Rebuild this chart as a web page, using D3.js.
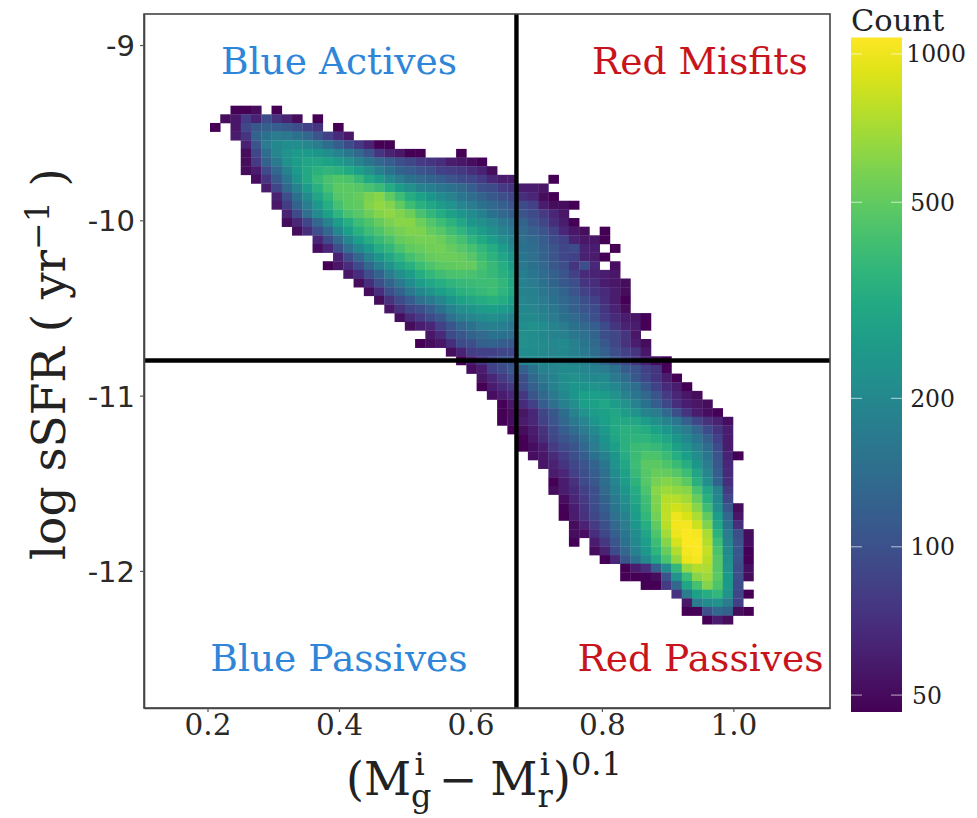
<!DOCTYPE html>
<html>
<head>
<meta charset="utf-8">
<script src="https://cdn.jsdelivr.net/npm/d3@7"></script>
<style>
  html, body { margin: 0; padding: 0; background: #fff; }
  svg { display: block; }
  text { font-family: "DejaVu Serif"; fill: #222; }
</style>
</head>
<body>
<div id="chart"></div>
<script>
var xTicks = [0.2, 0.4, 0.6, 0.8, 1.0];
var yTicks = [-9, -10, -11, -12];
var countTicks = [50, 100, 200, 500, 1000];
var quadrantLabels = ["Blue Actives", "Red Misfits", "Blue Passives", "Red Passives"];
var quadrantColors = ["#2f86d8", "#c8141c", "#2f86d8", "#c8141c"];
var quadrantX = [0.4, 0.949, 0.4, 0.95];
var quadrantY = [-9.165, -9.165, -12.57, -12.57];
var colorCut = 0.67;
var ssfrCut = -10.8;

// histogram bins: first edge and step in data units
var colorBinStart = 0.2038, colorBinStep = 0.0156;
var ssfrBinStart = -9.346, ssfrBinStep = 0.0493;

// one row per ssfr bin, top to bottom: first colour bin index, then the counts (0 = empty)
var countRows = [
  [2, 48,46,50,0,47],
  [1, 50,55,80,62,95,72,62,50,0,47],
  [0, 46,0,55,90,110,120,115,110,100,85,75,0,47],
  [2, 58,75,125,150,170,165,150,130,105,85,68,55],
  [3, 62,105,170,200,215,215,195,170,140,115,95,78,62,47,47],
  [3, 50,90,140,195,230,255,255,240,215,185,160,130,105,75,62,55,47,47,0,0,0,47],
  [3, 50,80,125,165,225,265,290,300,285,255,225,190,155,130,115,100,90,80,75,70,58,55,52,48],
  [3, 50,58,95,130,185,255,310,345,365,345,310,270,225,180,150,125,115,105,100,85,82,78,70,62,50],
  [4, 52,75,110,160,235,310,380,430,460,440,380,310,260,210,170,150,135,125,115,105,95,90,80,65,60,58,0,0,0,47],
  [5, 60,90,130,190,260,340,420,490,490,470,430,390,320,260,220,190,175,160,150,135,115,100,95,80,75,60,58,55],
  [6, 62,100,150,210,290,370,470,490,510,570,610,500,400,320,280,240,210,190,160,140,125,110,100,90,70,65,50,47],
  [6, 55,82,125,175,250,330,420,480,500,590,640,600,500,400,340,300,260,230,195,170,150,130,120,105,95,85,60,50,50,47],
  [7, 62,95,145,210,280,360,430,470,530,600,630,590,530,430,370,320,280,240,210,180,150,130,115,105,95,80,65,55],
  [7, 50,65,90,130,190,260,330,400,450,510,570,620,610,530,460,400,350,300,240,220,195,165,145,125,105,90,70,58,47],
  [8, 50,70,100,130,200,270,340,400,450,510,560,590,580,510,470,410,360,300,260,220,190,165,135,120,105,85,65,55,50,0,47],
  [10, 66,95,135,200,270,330,380,430,510,540,560,560,530,470,420,360,310,265,220,185,145,135,115,95,85,62,55,55,47],
  [10, 52,66,100,145,200,250,320,370,440,500,520,540,550,510,470,420,370,320,260,210,150,140,120,105,90,95,62,60,0,47],
  [12, 62,95,130,190,240,300,360,420,470,510,530,530,510,470,400,350,290,240,155,145,125,105,90,85,62,58,47],
  [11, 47,55,70,95,130,180,230,290,340,400,450,480,500,510,510,430,380,330,270,165,150,130,110,100,75,100,65,0,52],
  [13, 55,70,100,125,170,220,260,320,370,410,430,440,430,410,380,340,290,175,160,140,120,105,85,68,62,60,55],
  [14, 50,70,100,125,165,210,260,300,330,360,380,390,400,410,370,310,185,170,150,125,110,100,75,70,60,55,50],
  [15, 50,70,100,125,165,200,230,270,300,340,360,380,400,360,310,190,180,160,140,125,105,85,75,68,58,50],
  [16, 50,72,95,115,145,165,195,240,280,300,320,340,320,280,195,190,170,150,130,115,100,85,70,58,47],
  [17, 55,72,90,100,120,150,185,220,240,260,270,260,240,200,195,175,160,140,120,105,95,75,62,50],
  [18, 52,68,80,95,110,145,175,195,210,220,210,190,205,205,190,170,150,135,115,100,80,68,58,55,48],
  [19, 50,60,65,85,105,130,150,170,180,175,160,215,225,215,185,170,150,130,115,95,75,62,58,47],
  [21, 55,68,95,110,125,135,150,150,140,220,215,200,190,180,160,145,125,100,90,75,55],
  [20, 47,50,55,70,95,100,120,125,115,110,220,215,210,200,205,180,155,135,110,90,72,60,50],
  [23, 50,62,82,85,85,90,90,210,210,205,195,200,180,165,140,120,100,85,75,55],
  [24, 47,60,75,90,105,100,200,205,205,200,200,190,180,160,130,105,90,75,60,50,47],
  [25, 52,60,85,95,110,120,150,185,195,205,205,195,180,170,150,115,105,85,75,48],
  [26, 54,66,80,95,100,130,165,190,215,225,210,200,205,165,140,110,90,75,58,47],
  [26, 47,60,68,78,95,120,150,180,215,240,235,230,220,200,165,140,110,85,68,58,47],
  [27, 52,60,65,78,105,130,165,200,240,270,270,260,230,190,160,130,105,80,65,55,50],
  [28, 48,56,68,85,115,145,180,220,270,280,300,260,230,185,150,115,90,70,60,55,50],
  [28, 47,50,54,66,90,110,140,190,230,260,280,300,260,230,190,170,130,100,75,60,52,48],
  [28, 47,52,58,65,85,105,130,165,195,240,270,310,310,300,260,220,190,160,120,90,72,62,52],
  [29, 47,50,58,72,95,115,140,170,205,250,310,340,340,320,280,240,200,170,130,95,75,58],
  [30, 47,56,70,90,105,120,145,180,235,290,340,360,360,330,290,240,200,160,120,85,60],
  [30, 47,52,60,80,95,105,130,170,220,270,340,390,400,380,340,280,230,190,140,95,58],
  [31, 52,55,68,82,100,115,150,180,240,320,390,450,440,390,330,270,215,160,105,62,46],
  [32, 54,62,75,90,105,125,160,230,300,400,490,490,450,390,330,240,170,110,65],
  [33, 58,66,85,100,115,145,210,280,380,470,520,510,470,400,290,195,115,68],
  [33, 47,60,72,95,110,140,195,260,350,470,560,600,560,480,340,220,125,70],
  [33, 50,60,68,85,100,135,180,240,320,440,620,680,640,620,430,300,190,80],
  [34, 52,64,80,100,125,165,220,300,410,590,760,760,700,520,340,200,90],
  [34, 48,60,75,95,115,155,205,280,390,580,790,860,800,620,400,220,110,50],
  [34, 47,58,72,90,110,145,190,260,370,550,800,1000,900,730,500,260,130,55],
  [35, 50,62,80,100,130,170,240,330,500,780,1020,1040,850,590,300,150,70],
  [35, 52,52,70,90,120,160,215,290,450,700,1000,1060,1040,720,350,170,100,50],
  [35, 48,0,60,78,105,150,200,270,400,610,880,1060,1060,760,400,190,105,52],
  [37, 50,62,95,130,185,250,360,520,740,1030,1060,820,440,205,110,48],
  [38, 47,65,110,150,205,300,440,650,980,1040,780,470,220,105,47],
  [40, 47,60,70,120,210,370,660,750,730,470,230,100,52],
  [40, 47,47,48,50,105,230,400,620,680,480,250,100,50],
  [42, 47,47,80,130,290,420,600,450,250,95],
  [45, 75,170,280,330,370,230,90,47],
  [46, 55,170,210,230,170,85],
  [46, 47,48,100,130,125,50,47],
  [48, 47,60,50]
];

var cfg = { width: 977, height: 818, left: 144, right: 830, top: 14, bottom: 708 };

var svg = d3.select("#chart").append("svg")
    .attr("width", cfg.width)
    .attr("height", cfg.height);

var x = d3.scaleLinear().domain([0.1034, 1.147]).range([cfg.left, cfg.right]);
var y = d3.scaleLinear().domain([-8.823, -12.782]).range([cfg.top, cfg.bottom]);

var barY = d3.scaleLog().domain([46.2, 1080]).range([712, 37.5]);
var color = d3.scaleSequentialLog(d3.interpolateViridis).domain([46.2, 1080]);

// flatten rows to one cell per non empty bin
var cells = [];
countRows.forEach(function(row, j) {
  row.slice(1).forEach(function(count, k) {
    if (count > 0) cells.push({ col: row[0] + k, row: j, count: count });
  });
});

// the reference is a soft, resampled image
var defs = svg.append("defs");
defs.append("filter").attr("id", "soft")
    .append("feGaussianBlur").attr("stdDeviation", 0.5);

svg.append("g").attr("filter", "url(#soft)").selectAll("rect")
    .data(cells).enter()
    .append("rect")
    .attr("x", function(d) { return x(colorBinStart + d.col * colorBinStep); })
    .attr("y", function(d) { return y(ssfrBinStart - d.row * ssfrBinStep); })
    .attr("width", x(colorBinStep) - x(0) + 0.3)
    .attr("height", y(-ssfrBinStep) - y(0) + 0.3)
    .attr("fill", function(d) { return color(d.count); });

// cut lines
svg.append("line")
    .attr("x1", x(colorCut)).attr("x2", x(colorCut))
    .attr("y1", cfg.top).attr("y2", cfg.bottom)
    .style("stroke", "#000").style("stroke-width", 4.4);
svg.append("line")
    .attr("x1", cfg.left).attr("x2", cfg.right)
    .attr("y1", y(ssfrCut)).attr("y2", y(ssfrCut))
    .style("stroke", "#000").style("stroke-width", 4.4);

svg.append("rect")
    .attr("x", cfg.left).attr("y", cfg.top)
    .attr("width", cfg.right - cfg.left).attr("height", cfg.bottom - cfg.top)
    .style("fill", "none").style("stroke", "#444").style("stroke-width", 1.6);

// axes
var xAxis = svg.append("g")
    .attr("transform", "translate(0," + cfg.bottom + ")")
    .call(d3.axisBottom(x).tickValues(xTicks).tickFormat(d3.format(".1f")).tickSize(4).tickSizeOuter(0));
xAxis.selectAll("text").attr("dy", 0).attr("y", 27).style("font-size", "29.5px").style("font-family", "DejaVu Serif");

var yAxis = svg.append("g")
    .attr("transform", "translate(" + cfg.left + ",0)")
    .call(d3.axisLeft(y).tickValues(yTicks).tickFormat(function(d) { return "-" + Math.abs(d); }).tickSize(4).tickSizeOuter(0));
yAxis.selectAll("text").attr("x", -9).attr("dy", "0.36em").style("font-size", "29px").style("font-family", "DejaVu Sans");

svg.selectAll(".domain").style("stroke", "#444").style("stroke-width", 1.6);
svg.selectAll(".tick line").style("stroke", "#555").style("stroke-width", 1.2);
svg.selectAll(".tick text").style("fill", "#2a2a2a");

// quadrant names
svg.append("g").selectAll("text")
    .data(quadrantLabels).enter()
    .append("text")
    .text(function(d) { return d; })
    .attr("x", function(d, i) { return x(quadrantX[i]) ; })
    .attr("y", function(d, i) { return y(quadrantY[i]); })
    .attr("text-anchor", "middle")
    .style("font-size", "37.6px")
    .style("fill", function(d, i) { return quadrantColors[i]; });

// axis titles
var yTitle = svg.append("text")
    .attr("transform", "translate(65,364) rotate(-90)")
    .attr("text-anchor", "middle")
    .style("font-size", "47px");
yTitle.append("tspan").text("log sSFR ( yr");
yTitle.append("tspan").text("\u22121").attr("dy", -16).style("font-size", "33px");
yTitle.append("tspan").text(" )").attr("dy", 16);

var xTitle = svg.append("text").attr("x", 346).attr("y", 795).style("font-size", "46px");
xTitle.append("tspan").text("(M");
xTitle.append("tspan").text("g").attr("dy", 12).style("font-size", "32px");
xTitle.append("tspan").text("i").attr("dy", -32).attr("dx", -17).style("font-size", "32px");
xTitle.append("tspan").text("\u2212").attr("dy", 20).attr("dx", 14);
xTitle.append("tspan").text("M").attr("dx", 13);
xTitle.append("tspan").text("r").attr("dy", 12).style("font-size", "32px");
xTitle.append("tspan").text("i").attr("dy", -32).attr("dx", -13).style("font-size", "32px");
xTitle.append("tspan").text(")").attr("dy", 20).attr("dx", 3);
xTitle.append("tspan").text("0.1").attr("dy", -20).style("font-size", "32px");

// colour bar
var barLeft = 851, barRight = 902;
var gradient = defs.append("linearGradient")
    .attr("id", "viridisBar")
    .attr("x1", 0).attr("y1", 1).attr("x2", 0).attr("y2", 0);
d3.range(0, 21).forEach(function(i) {
  gradient.append("stop")
      .attr("offset", (i * 5) + "%")
      .attr("stop-color", d3.interpolateViridis(i / 20));
});
svg.append("rect")
    .attr("x", barLeft).attr("width", barRight - barLeft)
    .attr("y", barY(1080)).attr("height", barY(46.2) - barY(1080))
    .attr("fill", "url(#viridisBar)");

countTicks.forEach(function(t) {
  [[barLeft, barLeft + 11], [barRight - 11, barRight]].forEach(function(s) {
    svg.append("line")
        .attr("x1", s[0]).attr("x2", s[1])
        .attr("y1", barY(t)).attr("y2", barY(t))
        .style("stroke", "#fff").style("stroke-opacity", 0.55).style("stroke-width", 1.2);
  });
});

svg.append("g").selectAll("text")
    .data(countTicks).enter()
    .append("text")
    .text(function(d) { return d; })
    .attr("x", 966)
    .attr("y", function(d) { return barY(d); })
    .attr("dy", "0.36em")
    .attr("text-anchor", "end")
    .attr("dx", function(d) { return d === 1000 ? 0 : d === 50 ? -24 : -11; })
    .style("font-size", "23.5px");

svg.append("text")
    .text("Count")
    .attr("x", 851).attr("y", 31)
    .style("font-size", "30.5px");
</script>
</body>
</html>
